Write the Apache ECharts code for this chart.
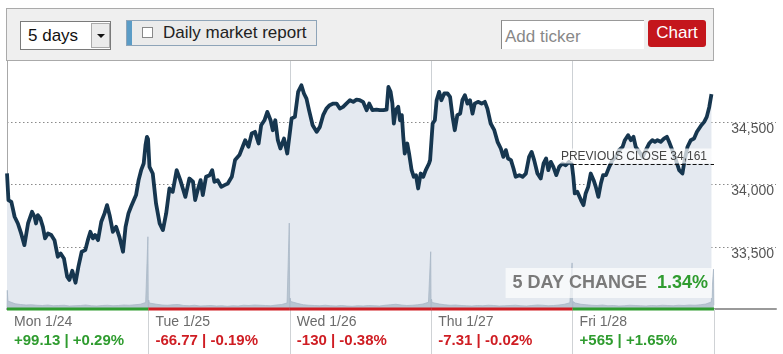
<!DOCTYPE html>
<html><head><meta charset="utf-8">
<script src="https://cdn.jsdelivr.net/npm/echarts@6/dist/echarts.min.js"></script>
<style>
html,body{margin:0;padding:0;background:#fff;}
#wrap{position:relative;width:783px;height:354px;overflow:hidden;font-family:"Liberation Sans",Arial,sans-serif;}
#chart{position:absolute;left:0;top:0;width:783px;height:354px;}
#bar{position:absolute;left:6px;top:8px;width:706px;height:51px;background:#efefef;border:1px solid #aaa;z-index:5;}
#bar div{box-sizing:border-box;position:absolute;}
#sel{left:13px;top:12px;width:91px;height:29px;background:#fff;border:1px solid #7a7a7a;font-size:17px;color:#111;line-height:27px;padding-left:7px;}
#dd{right:0;top:1px;width:19px;height:25px;background:#ebebeb;border:1px solid #aaa;}
#tri{left:5px;top:10px;width:0;height:0;border-left:4px solid transparent;border-right:4px solid transparent;border-top:4px solid #111;}
#rep{left:119px;top:11px;width:191px;height:26px;background:#ebebeb;border:1px solid #8ea4b8;font-size:17px;color:#222;line-height:24px;}
#stripe{left:0;top:0;width:5px;height:24px;background:#5b9cc6;}
#cb{left:15px;top:6px;width:11px;height:11px;background:#fff;border:1px solid #888;}
#rep span{position:absolute;left:36px;top:0;}
#tick{left:494px;top:11px;width:143px;height:29px;background:#fff;border-left:1px solid #888;border-top:1px solid #999;font-size:17px;color:#888;line-height:28px;padding:2px 0 0 3px;}
#btn{left:641px;top:11px;width:58px;height:27px;background:#c4161c;border-radius:3px;color:#fff;font-size:17px;text-align:center;line-height:25px;}
</style>
</head><body>
<div id="wrap">
  <div id="chart"></div>
  <div id="bar">
    <div id="sel">5 days<div id="dd"><div id="tri"></div></div></div>
    <div id="rep"><div id="stripe"></div><div id="cb"></div><span>Daily market report</span></div>
    <div id="tick">Add ticker</div>
    <div id="btn">Chart</div>
  </div>
</div>
<script>
// ---- data ----
const dayMinutes = 390;
const dayLabels = ['Mon 1/24', 'Tue 1/25', 'Wed 1/26', 'Thu 1/27', 'Fri 1/28'];
const dayPoints = [99.13, -66.77, -130, -7.31, 565];
const dayPercents = [0.29, -0.19, -0.38, -0.02, 1.65];
const prevClose = 34161;
const fiveDayChange = 1.34;
const priceMin = 33000, priceMax = 35000, priceStep = 500;

// [minute of week, price]
const monPrices = [[0,34090],[4,33875],[12,33861],[21,33741],[30,33687],[39,33607],[48,33513],[58,33687],[69,33781],[76,33741],[80,33687],[85,33754],[92,33727],[99,33660],[105,33567],[113,33607],[122,33594],[131,33553],[140,33420],[148,33446],[157,33406],[166,33259],[172,33233],[180,33307],[189,33211],[197,33340],[206,33460],[216,33473],[223,33553],[230,33620],[237,33567],[243,33594],[251,33553],[260,33701],[269,33768],[276,33834],[283,33754],[292,33620],[301,33660],[310,33580],[320,33460],[327,33660],[335,33768],[342,33821],[350,33875],[356,33915],[363,34035],[370,34115],[377,34169],[382,34316],[386,34383],[389,34365]];
const tuePrices = [[393,34142],[402,34088],[411,33848],[421,33687],[430,33634],[439,33768],[448,33968],[457,33941],[468,34115],[478,34035],[485,33968],[492,33901],[503,34048],[513,34022],[519,33875],[526,33955],[534,34035],[540,33915],[549,34062],[559,34075],[566,34115],[572,34022],[581,34035],[591,33981],[600,33995],[609,34008],[620,34062],[629,34196],[641,34236],[650,34303],[657,34356],[666,34303],[675,34410],[684,34423],[694,34329],[701,34476],[710,34516],[718,34583],[727,34516],[733,34436],[740,34516],[747,34356],[754,34289],[764,34369],[773,34249],[777,34260]];
const wedPrices = [[785,34530],[794,34543],[803,34744],[812,34797],[819,34731],[826,34690],[833,34597],[843,34476],[854,34423],[863,34463],[872,34557],[881,34610],[890,34637],[900,34650],[909,34650],[918,34610],[927,34624],[936,34650],[946,34677],[955,34664],[964,34682],[973,34677],[982,34664],[992,34597],[999,34650],[1008,34597],[1019,34602],[1028,34597],[1038,34597],[1047,34602],[1052,34784],[1058,34744],[1063,34650],[1067,34490],[1072,34597],[1079,34624],[1084,34516],[1089,34557],[1093,34383],[1097,34249],[1104,34329],[1109,34249],[1116,34115],[1122,34062],[1128,34075],[1134,33968],[1141,34088],[1148,34062],[1155,34115],[1164,34169]];
const thuPrices = [[1167,34196],[1174,34490],[1180,34516],[1185,34677],[1192,34744],[1198,34677],[1206,34731],[1215,34731],[1222,34704],[1229,34543],[1235,34436],[1242,34557],[1250,34570],[1256,34677],[1263,34717],[1270,34650],[1277,34677],[1284,34570],[1290,34650],[1299,34664],[1309,34650],[1318,34664],[1325,34610],[1334,34490],[1344,34436],[1353,34343],[1362,34289],[1369,34222],[1376,34276],[1382,34209],[1390,34196],[1397,34129],[1403,34062],[1413,34075],[1422,34062],[1431,34088],[1440,34222],[1447,34262],[1454,34196],[1463,34088],[1472,34048],[1480,34169],[1487,34209],[1493,34115],[1500,34182],[1507,34142],[1515,34075],[1523,34142],[1532,34169],[1541,34155],[1550,34182],[1558,34161]];
const friPrices = [[1562,34062],[1566,33928],[1573,33941],[1583,33875],[1590,33834],[1596,33928],[1603,33981],[1610,34088],[1618,34035],[1624,33981],[1631,33901],[1638,34008],[1644,34075],[1652,34075],[1661,34142],[1670,34196],[1679,34222],[1688,34276],[1698,34303],[1704,34356],[1713,34396],[1721,34356],[1728,34383],[1734,34303],[1744,34262],[1753,34222],[1762,34276],[1771,34329],[1780,34356],[1787,34343],[1794,34356],[1803,34343],[1812,34369],[1820,34383],[1826,34343],[1835,34276],[1845,34196],[1854,34115],[1863,34088],[1869,34196],[1877,34303],[1886,34356],[1895,34369],[1903,34423],[1909,34450],[1915,34476],[1923,34503],[1930,34543],[1937,34623],[1943,34726]];

// volume (relative units), 15-minute buckets per day, plus open and close prints
const volOpen = [7.5, 3.6, 4.4, 4.0, 3.0];
const volClose = [29, 34.5, 23, 18.5, 16];
const volBase = [
  [3.2,2.1,1.8,1.6,1.7,1.5,1.4,1.6,1.3,1.4,1.5,1.2,1.3,1.4,1.6,1.3,1.2,1.4,1.5,1.3,1.4,1.6,1.5,1.7,1.9,2.6],
  [2.4,1.9,1.6,1.5,1.7,1.8,1.4,1.3,1.5,1.2,1.3,1.4,1.2,1.3,1.1,1.3,1.2,1.5,1.4,1.6,1.5,1.4,1.3,1.6,1.8,2.4],
  [3.0,2.2,1.7,1.5,1.4,1.3,1.5,1.3,1.2,1.4,1.2,1.1,1.3,1.2,1.4,1.3,1.2,1.5,1.7,1.9,1.6,1.4,1.5,1.7,2.0,2.7],
  [2.6,2.0,1.7,1.5,1.6,1.4,1.3,1.2,1.4,1.3,1.5,1.4,1.2,1.3,1.4,1.5,1.3,1.2,1.4,1.6,1.5,1.3,1.4,1.6,1.9,2.5],
  [2.4,1.9,1.7,1.5,1.4,1.6,1.3,1.4,1.2,1.3,1.5,1.4,1.3,1.2,1.4,1.3,1.5,1.4,1.3,1.5,1.4,1.6,1.5,1.7,2.0,2.8]
];

// ---- build ----
const weekMinutes = dayMinutes * dayLabels.length;
const gutter = weekMinutes * 62 / 707; // room for right-hand price labels
const prices = [].concat(monPrices, tuePrices, wedPrices, thuPrices, friPrices);
const dayStarts = dayLabels.map((_, i) => i * dayMinutes);

const vol = [];
dayStarts.forEach((s, d) => {
  vol.push([s + 0.2, 0], [s + 0.8, volOpen[d]], [s + 2.5, volBase[d][0]]);
  volBase[d].forEach((v, i) => vol.push([s + 7.5 + 15 * i, v]));
  vol.push([s + 386.5, volBase[d][25]], [s + 388.6, volClose[d]], [s + 389.6, 1.5]);
});

const GREEN = '#2f9c2f', RED = '#cf1d23';
const fmtSigned = v => (v > 0 ? '+' : '') + v;

const segSeries = dayStarts.map((s, i) => ({
  type: 'line', silent: true, clip: false, symbol: 'none', z: 6,
  data: [[s, priceMin], [s + dayMinutes, priceMin]],
  lineStyle: { color: dayPoints[i] >= 0 ? GREEN : RED, width: 3 }
}));

const chart = echarts.init(document.getElementById('chart'), null, { renderer: 'canvas' });
chart.setOption({
  animation: false,
  textStyle: { fontFamily: '"Liberation Sans", Arial, sans-serif' },
  title: {
    text: '{a|5 DAY CHANGE}  {b|' + fiveDayChange.toFixed(2) + '%}',
    right: 71, bottom: 57,
    backgroundColor: 'rgba(255,255,255,0.68)',
    padding: [6, 4, 6, 7],
    textStyle: {
      rich: {
        a: { fontSize: 18, fontWeight: 'bold', color: '#7a7a7a', lineHeight: 20, fontFamily: '"Liberation Sans", Arial, sans-serif' },
        b: { fontSize: 18, fontWeight: 'bold', color: GREEN, lineHeight: 20, fontFamily: '"Liberation Sans", Arial, sans-serif' }
      }
    }
  },
  grid: { left: 7, right: 7, top: 60, bottom: 45 },
  xAxis: {
    type: 'value', min: 0, max: weekMinutes + gutter, interval: dayMinutes,
    axisLine: { show: true, lineStyle: { color: '#9a9a9a', width: 2 } },
    axisTick: { show: true, customValues: dayStarts.slice(1).concat([weekMinutes]), length: 45, lineStyle: { color: '#cfd2d5', width: 1 } },
    splitLine: { show: true, showMinLine: false, showMaxLine: false, lineStyle: { color: '#cdd1d5', width: 1 } },
    axisLabel: {
      customValues: dayStarts, showMinLabel: true, showMaxLabel: true, hideOverlap: false,
      align: 'left', margin: 5, padding: [0, 0, 0, 7],
      formatter: function (v) {
        const i = Math.round(v / dayMinutes);
        const p = dayPoints[i];
        const txt = fmtSigned(p) + ' | ' + (dayPercents[i] > 0 ? '+' : '') + dayPercents[i].toFixed(2) + '%';
        return '{d|' + dayLabels[i] + '}\n{' + (p >= 0 ? 'u' : 'n') + '|' + txt + '}';
      },
      rich: {
        d: { fontSize: 14, color: '#6b6b6b', lineHeight: 16 },
        u: { fontSize: 15, fontWeight: 'bold', color: GREEN, lineHeight: 22 },
        n: { fontSize: 15, fontWeight: 'bold', color: RED, lineHeight: 22 }
      }
    }
  },
  yAxis: [{
    type: 'value', position: 'right', min: priceMin, max: priceMax, interval: priceStep,
    axisLine: { show: false }, axisTick: { show: false },
    axisLabel: {
      inside: true, verticalAlign: 'top', margin: 2, color: '#555', fontSize: 14,
      showMinLabel: false, showMaxLabel: false,
      formatter: v => v.toLocaleString('en-US')
    },
    splitLine: { show: true, showMinLine: false, showMaxLine: false, lineStyle: { color: '#8a8a8a', type: [1.5, 2.5], width: 1 } }
  }, {
    type: 'value', position: 'left', min: 0, max: 100,
    axisLine: { show: true, lineStyle: { color: '#a8a8a8', width: 1 } },
    axisTick: { show: false }, axisLabel: { show: false }, splitLine: { show: false }
  }],
  series: [{
    type: 'line', name: 'price', data: prices, yAxisIndex: 0, z: 2,
    symbol: 'none', smooth: false,
    lineStyle: { color: '#16364f', width: 3.8, join: 'round' },
    areaStyle: { color: '#e4e9f0', origin: 'start', opacity: 1 },
    markLine: {
      silent: true, symbol: 'none', animation: false,
      lineStyle: { color: '#111', type: [4, 2], width: 1 },
      label: {
        show: true, position: 'insideEndTop', distance: 1,
        formatter: 'PREVIOUS CLOSE ' + prevClose.toLocaleString('en-US'),
        color: '#444', fontSize: 12,
        backgroundColor: 'rgba(255,255,255,0.72)', padding: [2, 6, 1, 3]
      },
      data: [[{ coord: [dayStarts[4], prevClose] }, { coord: [weekMinutes, prevClose] }]]
    }
  }, {
    type: 'line', name: 'volume', data: vol, yAxisIndex: 1, z: 3,
    symbol: 'none', silent: true,
    lineStyle: { color: '#a9b8c6', width: 0.8 },
    areaStyle: { color: '#b3c1cd', opacity: 0.9 }
  }].concat(segSeries)
});
</script>
</body></html>
